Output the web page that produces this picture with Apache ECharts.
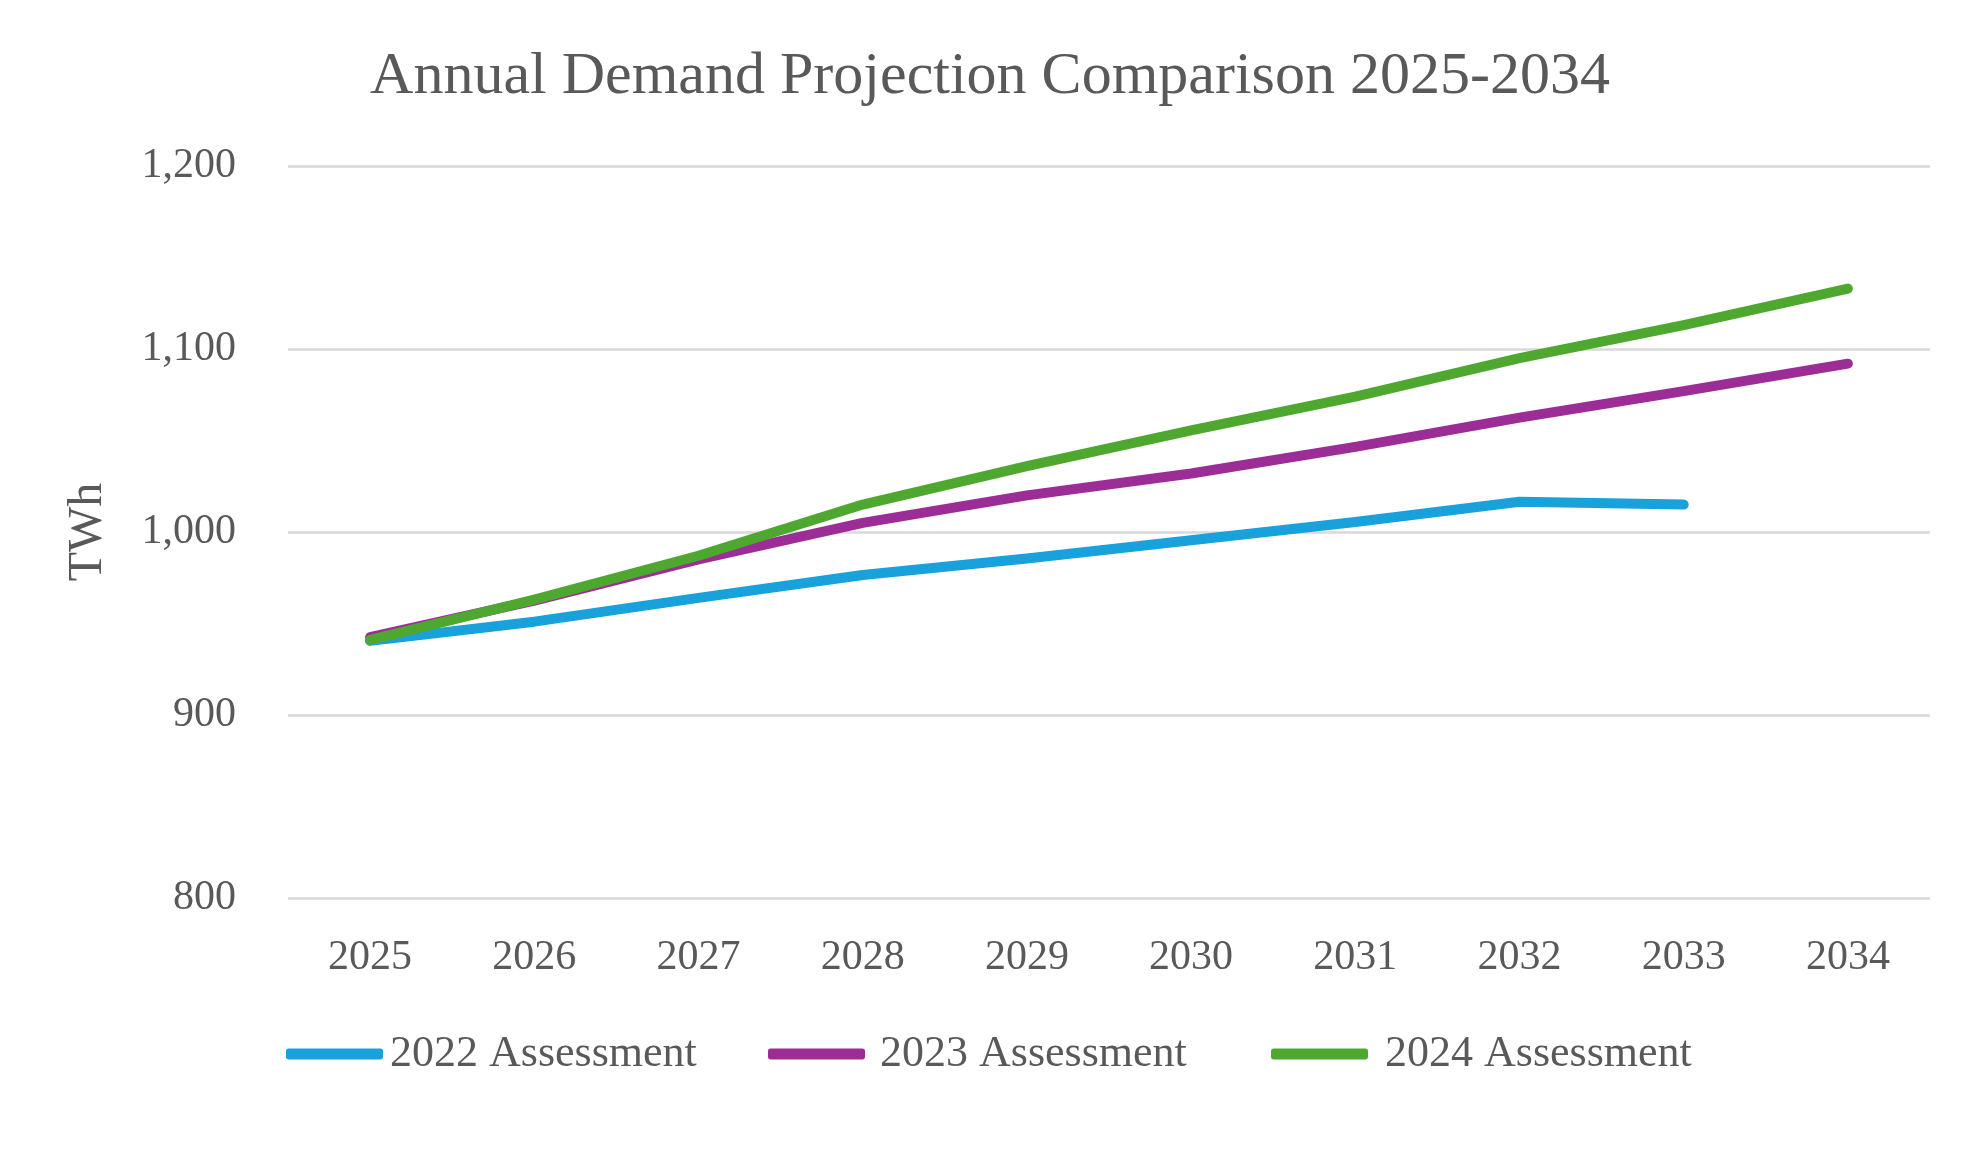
<!DOCTYPE html>
<html>
<head>
<meta charset="utf-8">
<script src="https://cdn.jsdelivr.net/npm/echarts@6/dist/echarts.min.js"></script>
<style>html,body{margin:0;padding:0;background:#fff}#c{width:1980px;height:1155px}</style>
</head>
<body>
<div id="c"></div>
<script>
const years = ['2025','2026','2027','2028','2029','2030','2031','2032','2033','2034'];
const a2022 = [940.5, 951, 964, 976.5, 985.5, 995.5, 1005.5, 1016.5, 1015];
const a2023 = [942.5, 962.5, 985, 1005, 1020, 1032, 1046.5, 1062.5, 1077, 1092];
const a2024 = [941, 963, 987, 1015, 1036, 1055.5, 1074, 1095, 1113, 1133];
const seriesNames = ['2022 Assessment', '2023 Assessment', '2024 Assessment'];
const colors = ['#18A1DB', '#9C2C96', '#4EA72E'];

const FONT = '"Liberation Serif", "DejaVu Serif", serif';
const TXT = '#595959';
const chart = echarts.init(document.getElementById('c'));
const mk = (name, data, color) => ({
  name, type: 'line', data, showSymbol: false, symbol: 'none',
  lineStyle: { color, width: 10, cap: 'round', join: 'round' },
  itemStyle: { color }
});
const legendLefts = [281, 763, 1266];
const legendTextPad = [2, 10, 12];
const mkLegend = (i) => ({
  left: legendLefts[i], top: 1027, itemWidth: 97, itemHeight: 11,
  icon: 'roundRect',
  textStyle: { fontFamily: FONT, fontSize: 44, color: TXT, padding: [0, 0, 0, legendTextPad[i]] },
  data: [seriesNames[i]]
});
chart.setOption({
  animation: false,
  color: colors,
  title: {
    text: 'Annual Demand Projection Comparison 2025-2034',
    left: 'center', top: 42,
    textStyle: { fontFamily: FONT, fontSize: 60, fontWeight: 'normal', color: TXT }
  },
  grid: { left: 288, right: 50, top: 166, bottom: 257 },
  legend: [mkLegend(0), mkLegend(1), mkLegend(2)],
  xAxis: {
    type: 'category', data: years, boundaryGap: true,
    axisLine: { show: false }, axisTick: { show: false },
    axisLabel: { fontFamily: FONT, fontSize: 42, color: TXT, margin: 39 }
  },
  yAxis: {
    type: 'value', min: 800, max: 1200, interval: 100,
    name: 'TWh', nameLocation: 'middle', nameGap: 176,
    nameTextStyle: { fontFamily: FONT, fontSize: 48, color: TXT },
    axisLine: { show: false }, axisTick: { show: false },
    splitLine: { lineStyle: { color: '#D9D9D9', width: 2.5 } },
    axisLabel: {
      fontFamily: FONT, fontSize: 42, color: TXT, margin: 52,
      formatter: v => v.toLocaleString('en-US')
    }
  },
  series: [
    mk(seriesNames[0], a2022, colors[0]),
    mk(seriesNames[1], a2023, colors[1]),
    mk(seriesNames[2], a2024, colors[2])
  ]
});
</script>
</body>
</html>
